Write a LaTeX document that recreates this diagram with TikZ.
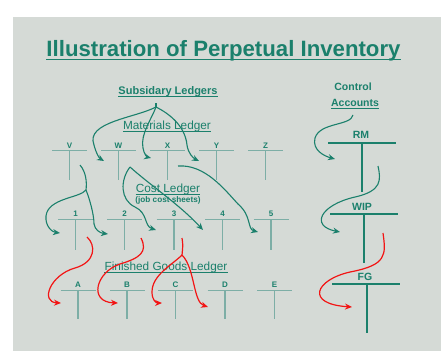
\documentclass[tikz,border=0pt]{standalone}
\usepackage{fontspec}
\setmainfont{Liberation Sans}
\usetikzlibrary{arrows.meta}
\definecolor{bg}{HTML}{D5DAD6}
\definecolor{tealA}{HTML}{1B806C}
\definecolor{tline}{HTML}{7DAEA6}
\definecolor{redA}{HTML}{F21414}
\tikzset{
  lbl/.style={inner sep=0pt, anchor=base, text=tealA, font=\bfseries\fontsize{8}{9}\selectfont},
  clbl/.style={inner sep=0pt, anchor=base, text=tealA, font=\bfseries\fontsize{10.5}{12}\selectfont},
  head/.style={inner sep=0pt, anchor=base, text=tealA, font=\fontsize{11.8}{13}\selectfont},
  ul/.style={draw=tealA, line width=1.1pt},
  tacc/.style={draw=tline, line width=1.2pt},
  cacc/.style={draw=tealA, line width=2.6pt},
  tarr/.style={draw=tealA, line width=1.1pt, -{Stealth[length=7pt,width=6pt]}},
  rarr/.style={draw=redA, line width=1.2pt, -{Stealth[length=7pt,width=6pt]}},
  tlink/.style={draw=tealA, line width=1.1pt},
  rlink/.style={draw=redA, line width=1.2pt}
}
\begin{document}
\begin{tikzpicture}[x=1pt,y=-1pt]
\useasboundingbox (0,0) rectangle (443,351);
\fill[white] (0,0) rectangle (443,351);
\fill[bg] (13,17) rectangle (441,351);

% title
\node[inner sep=0pt, anchor=base, text=tealA, font=\bfseries\fontsize{22.2}{27}\selectfont] (title) at (223.5,56) {Illustration of Perpetual Inventory};
\draw[ul, line width=1.8pt] ([yshift=-3.5pt]title.base west) -- ([yshift=-3.5pt]title.base east);

% headings
\node[head, font=\bfseries\fontsize{11}{13}\selectfont] (sub) at (168,94) {Subsidary Ledgers};
\draw[ul] ([yshift=-2.5pt]sub.base west) -- ([yshift=-2.5pt]sub.base east);
\node[clbl] (ctrl) at (353,90) {Control};
\node[clbl] (acc) at (355,106) {Accounts};
\draw[ul] ([yshift=-2.5pt]acc.base west) -- ([yshift=-2.5pt]acc.base east);
\node[head] (mat) at (167,129) {Materials Ledger};
\draw[ul] ([yshift=-2.5pt]mat.base west) -- ([yshift=-2.5pt]mat.base east);
\node[head] (cost) at (168,192) {Cost Ledger};
\draw[ul] ([yshift=-2.5pt]cost.base west) -- ([yshift=-2.5pt]cost.base east);
\node[lbl, font=\bfseries\fontsize{8.2}{9}\selectfont] (jcs) at (168,202) {(job cost sheets)};
\node[head] (fgl) at (166,270) {Finished Goods Ledger};
\draw[ul] ([yshift=-2.5pt]fgl.base west) -- ([yshift=-2.5pt]fgl.base east);

% materials ledger T accounts
\foreach \n/\x in {V/69.5,W/118.5,X/167.5,Y/216.5,Z/265.5}{
  \node[lbl] (m\n) at (\x,148) {\n};
  \draw[tacc] (\x-17.5,150.5) -- (\x+17.5,150.5) (\x,150.5) -- (\x,180);
}
% job T accounts
\foreach \n/\x in {1/75.5,2/124.5,3/174,4/222.5,5/271}{
  \node[lbl] (j\n) at (\x,216) {\n};
  \draw[tacc] (\x-17.5,219.5) -- (\x+17.5,219.5) (\x,219.5) -- (\x,250);
}
% finished goods T accounts
\foreach \n/\x in {A/78,B/127,C/175.5,D/225,E/274.5}{
  \node[lbl] (f\n) at (\x,287) {\n};
  \draw[tacc] (\x-17.5,290.5) -- (\x+17.5,290.5) (\x,290.5) -- (\x,319);
}

% control T accounts
\node[clbl] (rm) at (361,138) {RM};
\draw[cacc] (328,143) -- (396,143) (362,143) -- (362,192);
\node[clbl] (wip) at (362,210) {WIP};
\draw[cacc] (330,214) -- (398,214) (364,214) -- (364,263);
\node[clbl] (fg) at (365,280) {FG};
\draw[cacc] (332,284) -- (400,284) (367,284) -- (367,333);

% coordinates
\coordinate (fork) at (156,107);
\coordinate (tW) at (104,161);
\coordinate (tX) at (151,158);
\coordinate (tY) at (199,161);
\coordinate (vS) at (80,165);
\coordinate (vF) at (86,190);
\coordinate (t1) at (60,233);
\coordinate (t2) at (108,234);
\coordinate (wS) at (130,167);
\coordinate (t3) at (156,230);
\coordinate (t4) at (203,230);
\coordinate (xS) at (178,166);
\coordinate (t5) at (258,232);
\coordinate (r1) at (87,237);
\coordinate (tA) at (61,303);
\coordinate (r2) at (141,238);
\coordinate (tB) at (118,303);
\coordinate (r3) at (182,238);
\coordinate (r3f) at (182,255);
\coordinate (tC) at (162,303);
\coordinate (tD) at (208,307);
\coordinate (cS) at (353,115);
\coordinate (tRM) at (335,159);
\coordinate (rmS) at (378,166);
\coordinate (tWIP) at (340,232);
\coordinate (wipS) at (383,233);
\coordinate (tFG) at (352,307);

% subsidiary -> materials
\draw[tlink] (156,103) -- (fork);
\draw[tarr] (fork) .. controls (135,118) and (85,122) .. (94,145) .. controls (96,153) and (99,158) .. (tW);
\draw[tarr] (fork) .. controls (152,118) and (140,135) .. (143,148) .. controls (144,154) and (147,157) .. (tX);
\draw[tarr] (fork) .. controls (168,113) and (185,125) .. (187,145) .. controls (188,153) and (193,158) .. (tY);

% materials -> jobs
\draw[tlink] (vS) .. controls (86,172) and (87,182) .. (vF);
\draw[tarr] (vF) .. controls (80,198) and (48,198) .. (46,216) .. controls (45,226) and (52,232) .. (t1);
\draw[tarr] (vF) .. controls (90,200) and (94,215) .. (94,224) .. controls (95,230) and (100,233) .. (t2);
\draw[tarr] (wS) .. controls (120,180) and (120,200) .. (135,207) .. controls (148,213) and (144,226) .. (t3);
\draw[tarr] (wS) .. controls (150,185) and (180,205) .. (t4);
\draw[tarr] (xS) .. controls (205,164) and (225,190) .. (238,204) .. controls (252,216) and (247,229) .. (t5);

% jobs -> finished goods (red)
\draw[rarr] (r1) .. controls (96,245) and (96,262) .. (75,268) .. controls (50,275) and (40,302) .. (tA);
\draw[rarr] (r2) .. controls (148,252) and (140,258) .. (120,264) .. controls (96,272) and (88,302) .. (tB);
\draw[rlink] (r3) .. controls (183,245) .. (r3f);
\draw[rarr] (r3f) .. controls (172,265) and (152,275) .. (152,292) .. controls (152,300) and (156,303) .. (tC);
\draw[rarr] (r3f) .. controls (195,268) and (193,302) .. (tD);

% control arrows
\draw[tarr] (cS) .. controls (351,126) and (320,122) .. (315,138) .. controls (312,150) and (324,156) .. (tRM);
\draw[tarr] (rmS) .. controls (381,180) and (382,191) .. (355,197) .. controls (320,205) and (310,226) .. (tWIP);
\draw[rarr] (wipS) .. controls (386,255) and (387,265) .. (350,272) .. controls (315,280) and (305,304) .. (tFG);
\end{tikzpicture}
\end{document}
